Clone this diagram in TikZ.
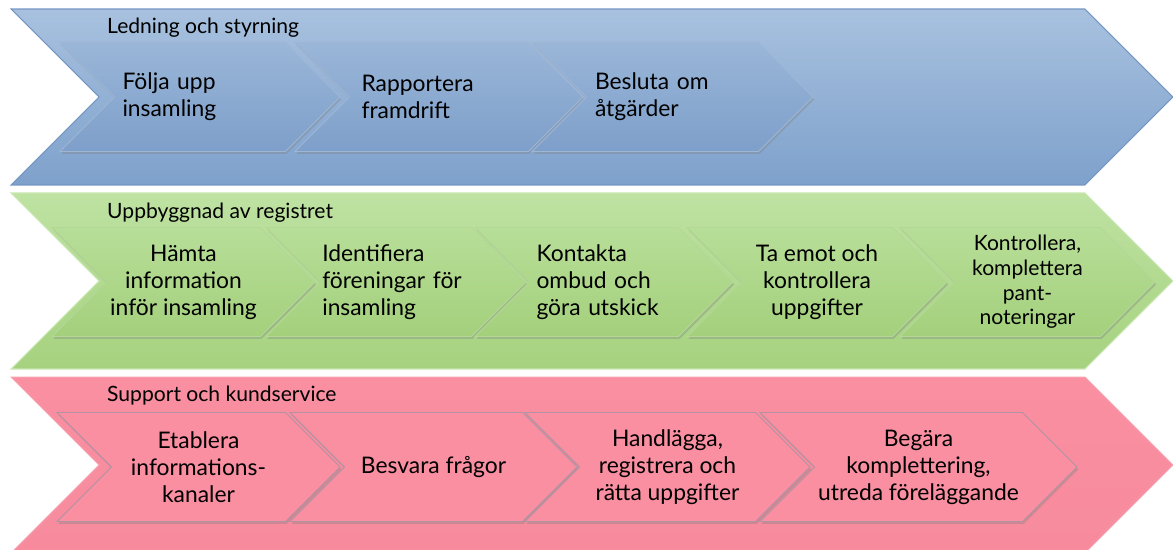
\documentclass[tikz,border=0pt]{standalone}
\usepackage{fontspec}
\setmainfont{Lato}
\usepackage{tikz}
\usetikzlibrary{shapes.symbols, shadows}
\definecolor{ledtop}{HTML}{A8C1DF}
\definecolor{ledbot}{HTML}{7EA1CB}
\definecolor{ledline}{HTML}{7496C2}
\definecolor{ledtask}{HTML}{9AB6D8}
\definecolor{ledtaskb}{HTML}{7E9FCA}
\definecolor{regtop}{HTML}{BEE2A2}
\definecolor{regbot}{HTML}{A6D27F}
\definecolor{regline}{HTML}{C9E7B2}
\definecolor{regtask}{HTML}{B7DE98}
\definecolor{regtaskb}{HTML}{A4D07C}
\definecolor{suptop}{HTML}{F98FA1}
\definecolor{supbot}{HTML}{F78B9D}
\definecolor{supline}{HTML}{F6A3B1}
\definecolor{suptaskline}{HTML}{B293A4}

\begin{document}
\begin{tikzpicture}[
    x=0.02cm, y=-0.02cm,
    band/.style  = {signal, signal to=east, signal from=west, signal pointer angle=90,
                    minimum width=23.24cm, minimum height=3.52cm, inner sep=0pt,
                    line width=0.6pt},
    task/.style  = {signal, signal to=east, signal from=west, signal pointer angle=90,
                    minimum height=2.18cm, inner sep=1pt, line width=0.5pt,
                    font=\fontsize{13}{15.4}\selectfont,
                    drop shadow={opacity=0.35, shadow xshift=0.7pt, shadow yshift=-1.3pt}},
    ledtsk/.style= {task, draw=ledline!70, top color=ledtask, bottom color=ledtaskb,
                    align=left, text width=3.1cm},
    regtsk/.style= {task, draw=regline!80!black!20!regtask, top color=regtask,
                    bottom color=regtaskb, align=center},
    suptsk/.style= {task, draw=suptaskline, fill=suptop, align=center},
    hdr/.style   = {anchor=west, font=\fontsize{12}{14.4}\selectfont}
  ]
  \useasboundingbox (0,0) rectangle (1173,549);

  % ── Ledning och styrning ───────────────────────────────────────────────────
  \node[band, draw=ledline, top color=ledtop, bottom color=ledbot] (ledband) at (592,97) {};
  \node[hdr] (ledhdr) at (101,28) {Ledning och styrning};

  \node[ledtsk, minimum width=5.60cm] (folja)   at (200.0,97) {Följa upp\\insamling};
  \node[ledtsk, minimum width=5.76cm] (rapport) at (439.0,97) {Rapportera\\framdrift};
  \node[ledtsk, minimum width=5.62cm] (besluta) at (672.5,97) {Besluta om\\åtgärder};

  % ── Uppbyggnad av registret ────────────────────────────────────────────────
  \node[band, draw=regline, top color=regtop, bottom color=regbot] (regband) at (592,281) {};
  \node[hdr] (reghdr) at (101,213) {Uppbyggnad av registret};

  \node[regtsk, minimum width=5.26cm] (hamta)   at (183.5,282) {Hämta\\information\\inför insamling};
  \node[regtsk, minimum width=5.16cm, align=left, text width=2.95cm]
                                      (identif) at (396.0,282) {Identifiera\\föreningar för\\insamling};
  \node[regtsk, minimum width=5.16cm, align=left, text width=2.7cm]
                                      (kontakt) at (604.0,282) {Kontakta\\ombud och\\göra utskick};
  \node[regtsk, minimum width=5.20cm] (taemot)  at (817.0,282) {Ta emot och\\kontrollera\\uppgifter};
  \node[regtsk, minimum width=5.10cm, font=\fontsize{12}{14}\selectfont]
                                      (kontroll) at (1027.5,282) {Kontrollera,\\komplettera\\pant-\\noteringar};

  % ── Support och kundservice ────────────────────────────────────────────────
  \node[band, draw=supline, top color=suptop, bottom color=supbot] (supband) at (592,465) {};
  \node[hdr] (suphdr) at (101,396) {Support och kundservice};

  \node[suptsk, minimum width=5.66cm] (etabl)   at (198.5,467) {Etablera\\informations-\\kanaler};
  \node[suptsk, minimum width=5.74cm] (besvara) at (433.5,467) {Besvara frågor};
  \node[suptsk, minimum width=5.70cm] (handl)   at (667.5,467) {Handlägga,\\registrera och\\rätta uppgifter};
  \node[suptsk, minimum width=6.34cm] (begara)  at (918.5,467) {Begära\\komplettering,\\utreda föreläggande};

\end{tikzpicture}
\end{document}
